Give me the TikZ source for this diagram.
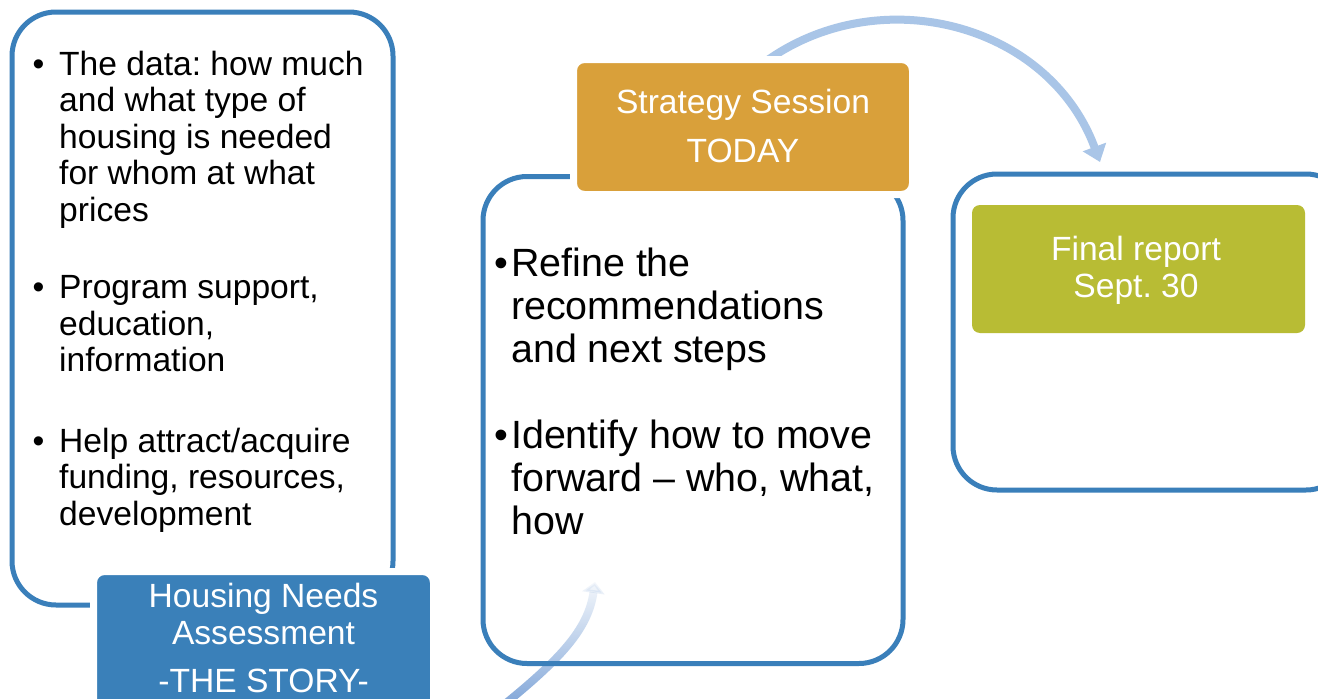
\documentclass[tikz,border=0pt]{standalone}
\usepackage{fontspec}
\setmainfont{Liberation Sans}
\usepackage{tikz}
\usetikzlibrary{arrows.meta,fadings}
\definecolor{outblue}{RGB}{58,127,186}
\definecolor{hnablue}{RGB}{58,128,185}
\definecolor{sessorange}{RGB}{217,160,58}
\definecolor{reportgreen}{RGB}{184,188,52}
\definecolor{arcblue}{RGB}{169,197,231}
\definecolor{lowblue}{RGB}{120,160,214}
\tikzfading[name=lowfade,top color=transparent!95,middle color=transparent!78,bottom color=transparent!0]
\frenchspacing

\begin{document}
\begin{tikzpicture}[x=1pt,y=-1pt]
\tikzstyle{stagebox}=[draw=outblue,line width=5pt,rounded corners=44pt,inner sep=0pt];
\tikzstyle{tagbox}=[draw=white,line width=7pt,rounded corners=11pt,inner sep=0pt];
\tikzstyle{tagtext}=[text=white,inner sep=0pt,anchor=base,font=\fontsize{33.6}{37}\selectfont];
\tikzstyle{listtext}=[inner sep=0pt,anchor=base west];
\useasboundingbox[fill=white] (0,0) rectangle (1318,699);
\clip (0,0) rectangle (1318,699);

\coordinate (topA) at (738,85);
\coordinate (topB) at (1100,162);
\coordinate (lowA) at (495,712);
\coordinate (lowB) at (595,582);
\draw[arcblue,line width=8pt,-{Triangle[width=24pt,length=16pt]}] (topA) .. controls (850.5,-27.5) and (1044.8,12.8) .. (topB);
\draw[lowblue,line width=8pt,path fading=lowfade,-{Triangle[width=22pt,length=11pt]}] (lowA) .. controls (560,660) and (588,630) .. (lowB);

\node[stagebox,minimum width=381pt,minimum height=593pt] (needs) at (202.5,308.5) {};
\node[stagebox,minimum width=420pt,minimum height=487pt] (session) at (693,420) {};
\node[stagebox,minimum width=397pt,minimum height=316pt] (report) at (1151.5,332) {};

\node[tagbox,fill=hnablue,minimum width=340pt,minimum height=147pt] (hna) at (263.5,645) {};
\node[tagbox,fill=sessorange,minimum width=339pt,minimum height=135pt] (today) at (743,127) {};
\node[fill=reportgreen,rounded corners=8pt,inner sep=0pt,minimum width=333pt,minimum height=128pt] (final) at (1138.5,269) {};

\node[tagtext] (hnalabel) at (263.5,607) {\begin{tabular}[t]{@{}c@{}}Housing Needs\\Assessment\\[11pt]-THE STORY-\end{tabular}};
\node[tagtext,font=\fontsize{33.6}{49}\selectfont] (todaylabel) at (743,113) {\begin{tabular}[t]{@{}c@{}}Strategy Session\\TODAY\end{tabular}};
\node[tagtext] (finallabel) at (1136,260) {\begin{tabular}[t]{@{}c@{}}Final report\\Sept. 30\end{tabular}};

\node[listtext,font=\fontsize{33.6}{36.5}\selectfont] (needslist) at (32.5,75) {\begin{tabular}[t]{@{}p{26.5pt}@{}l@{}}
\textbullet & The data: how much\\
 & and what type of\\
 & housing is needed\\
 & for whom at what\\
 & prices\\[41pt]
\textbullet & Program support,\\
 & education,\\
 & information\\[44pt]
\textbullet & Help attract/acquire\\
 & funding, resources,\\
 & development
\end{tabular}};
\node[listtext,font=\fontsize{39.4}{43}\selectfont] (sessionlist) at (494,276) {\begin{tabular}[t]{@{}p{17pt}@{}l@{}}
\textbullet & Refine the\\
 & recommendations\\
 & and next steps\\[43pt]
\textbullet & Identify how to move\\
 & forward – who, what,\\
 & how
\end{tabular}};
\end{tikzpicture}
\end{document}
